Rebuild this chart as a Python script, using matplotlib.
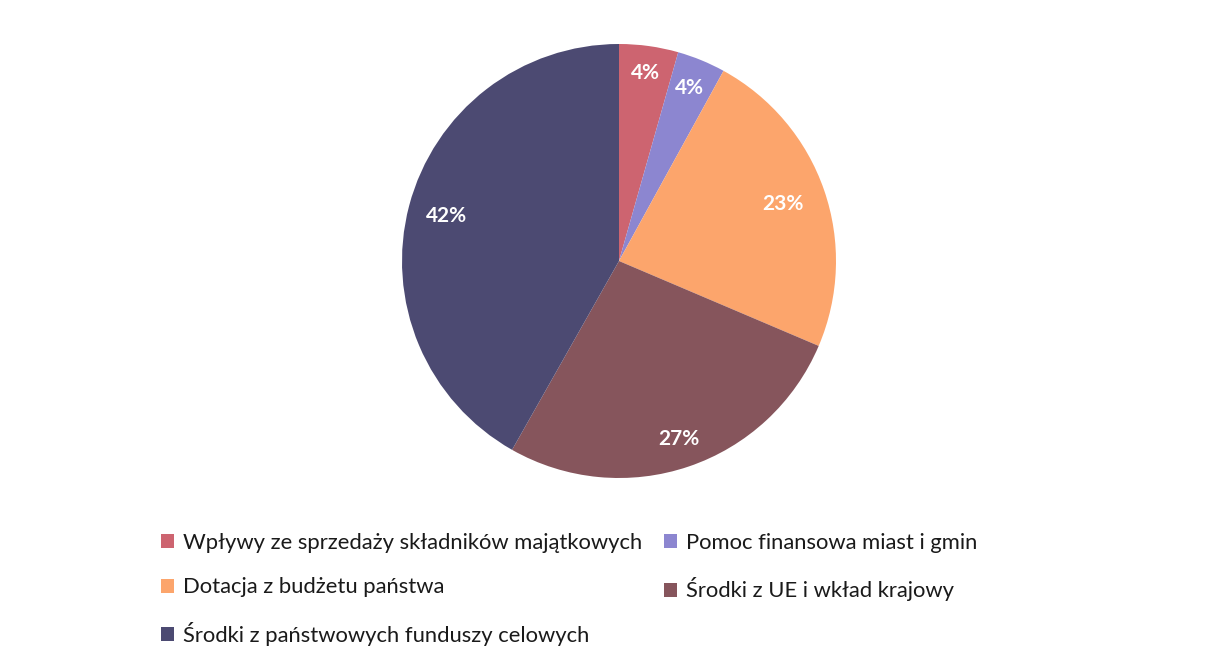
import matplotlib.pyplot as plt
from matplotlib.patches import Patch
import numpy as np

# Data
categories = [
    "Wpływy ze sprzedaży składników majątkowych",
    "Pomoc finansowa miast i gmin",
    "Dotacja z budżetu państwa",
    "Środki z UE i wkład krajowy",
    "Środki z państwowych funduszy celowych",
]
shares = [4.4, 3.6, 23.4, 26.8, 41.8]
colors = ["#cd6470", "#8c86d0", "#fca56c", "#86555c", "#4c4a72"]

plt.rcParams['font.family'] = ['Lato', 'DejaVu Sans']

fig = plt.figure(figsize=(12.19, 6.53), dpi=100)
fig.patch.set_facecolor("white")

# pie axes: center ~ (619, 261) px, radius ~ 217 px
cx, cy = 619 / 1219, 1 - 261 / 653
rw, rh = 217 / 1219, 217 / 653
ax = fig.add_axes([cx - rw, cy - rh, 2 * rw, 2 * rh])

wedges, texts = ax.pie(
    shares, colors=colors, startangle=90, counterclock=False,
    radius=1.0, wedgeprops=dict(linewidth=0),
)

# percentage labels at the middle angle of each wedge
dists = [0.875, 0.86, 0.80, 0.865, 0.82]
for w, s, d in zip(wedges, shares, dists):
    ang = np.deg2rad((w.theta1 + w.theta2) / 2)
    ax.text(d * np.cos(ang), d * np.sin(ang), f"{round(s):d}%",
            ha="center", va="center", color="white", fontsize=15,
            fontweight="bold")

ax.set_xlim(-1, 1)
ax.set_ylim(-1, 1)
ax.set_aspect("equal")
ax.axis("off")

# Legend (row-major order as in the original -> reorder for column filling)
handles = [Patch(facecolor=c, edgecolor="none") for c in colors]
order = [0, 2, 4, 1, 3]
fig.legend([handles[i] for i in order], [categories[i] for i in order],
           ncol=2, loc="upper left", bbox_to_anchor=(0.132, 0.184),
           frameon=False, fontsize=15.8, handlelength=0.6, handleheight=0.6,
           handletextpad=0.4, columnspacing=1.0, labelspacing=1.12,
           borderpad=0, borderaxespad=0, labelcolor="#1a1a1a")

plt.savefig("out.png", dpi=100, facecolor="white")
